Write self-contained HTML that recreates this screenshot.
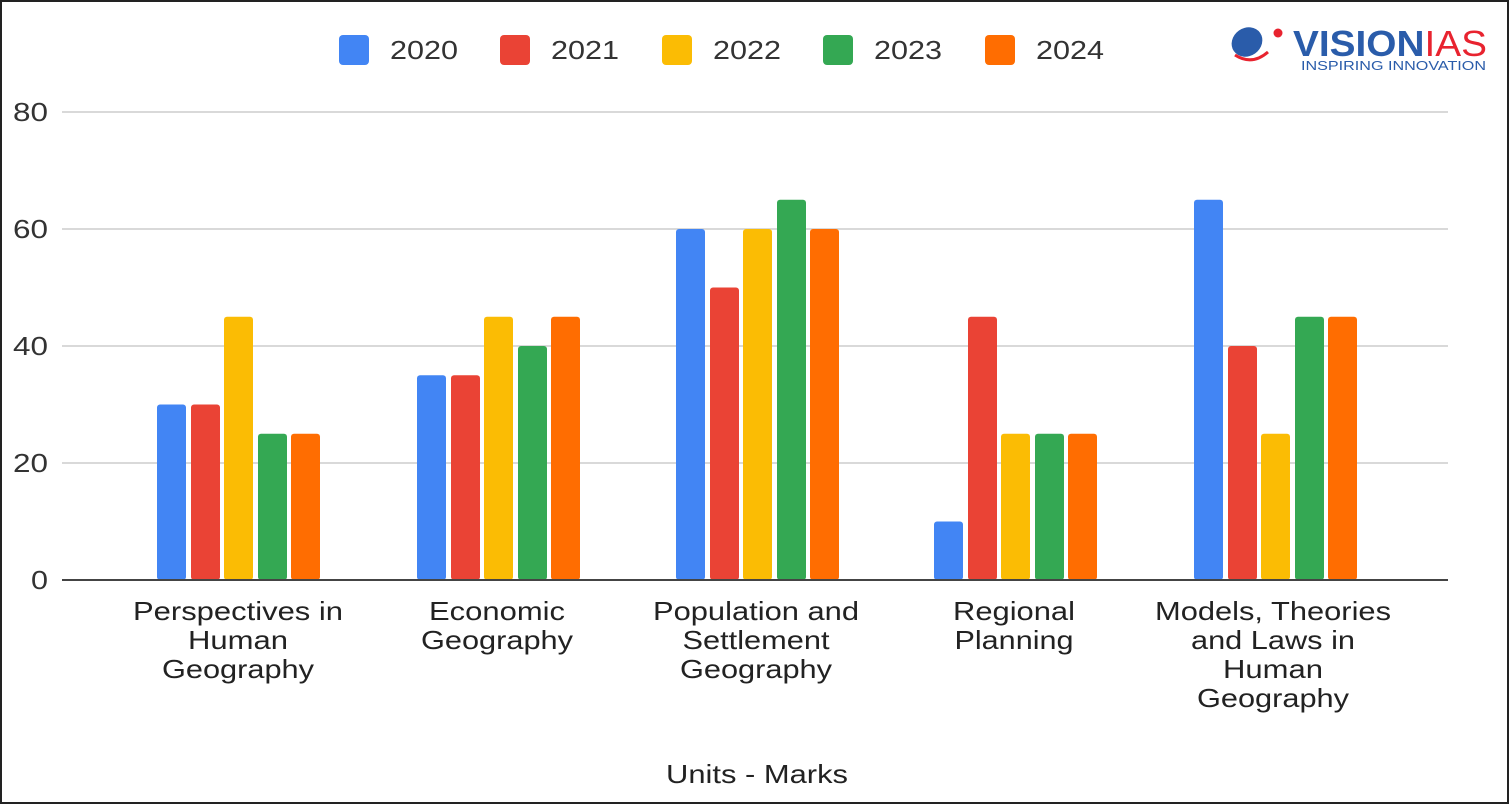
<!DOCTYPE html>
<html><head><style>
html,body{margin:0;padding:0;background:#fff;}
svg{display:block;}
text{font-family:"Liberation Sans",Arial,sans-serif;}
</style></head><body>
<svg width="1510" height="805" viewBox="0 0 1510 805" xmlns="http://www.w3.org/2000/svg">
<rect x="1" y="1" width="1507" height="802" fill="#fff" stroke="#222" stroke-width="2"/>
<g stroke="#d9d9d9" stroke-width="2">
<line x1="62" y1="112" x2="1448" y2="112"/>
<line x1="62" y1="229" x2="1448" y2="229"/>
<line x1="62" y1="346" x2="1448" y2="346"/>
<line x1="62" y1="463" x2="1448" y2="463"/>
</g>
<g font-size="26" fill="#333">
<text x="13" y="121" textLength="35" lengthAdjust="spacingAndGlyphs">80</text>
<text x="13" y="238" textLength="35" lengthAdjust="spacingAndGlyphs">60</text>
<text x="13" y="355" textLength="35" lengthAdjust="spacingAndGlyphs">40</text>
<text x="13" y="472" textLength="35" lengthAdjust="spacingAndGlyphs">20</text>
<text x="31" y="589" textLength="17" lengthAdjust="spacingAndGlyphs">0</text>
</g>
<g>
<rect x="157" y="404.5" width="29" height="175.5" rx="3" fill="#4285f4"/>
<rect x="191" y="404.5" width="29" height="175.5" rx="3" fill="#ea4335"/>
<rect x="224" y="316.7" width="29" height="263.3" rx="3" fill="#fbbc04"/>
<rect x="258" y="433.7" width="29" height="146.3" rx="3" fill="#34a853"/>
<rect x="291" y="433.7" width="29" height="146.3" rx="3" fill="#ff6d01"/>
<rect x="417" y="375.2" width="29" height="204.8" rx="3" fill="#4285f4"/>
<rect x="451" y="375.2" width="29" height="204.8" rx="3" fill="#ea4335"/>
<rect x="484" y="316.7" width="29" height="263.3" rx="3" fill="#fbbc04"/>
<rect x="518" y="346" width="29" height="234" rx="3" fill="#34a853"/>
<rect x="551" y="316.7" width="29" height="263.3" rx="3" fill="#ff6d01"/>
<rect x="676" y="229" width="29" height="351" rx="3" fill="#4285f4"/>
<rect x="710" y="287.5" width="29" height="292.5" rx="3" fill="#ea4335"/>
<rect x="743" y="229" width="29" height="351" rx="3" fill="#fbbc04"/>
<rect x="777" y="199.7" width="29" height="380.3" rx="3" fill="#34a853"/>
<rect x="810" y="229" width="29" height="351" rx="3" fill="#ff6d01"/>
<rect x="934" y="521.5" width="29" height="58.5" rx="3" fill="#4285f4"/>
<rect x="968" y="316.7" width="29" height="263.3" rx="3" fill="#ea4335"/>
<rect x="1001" y="433.7" width="29" height="146.3" rx="3" fill="#fbbc04"/>
<rect x="1035" y="433.7" width="29" height="146.3" rx="3" fill="#34a853"/>
<rect x="1068" y="433.7" width="29" height="146.3" rx="3" fill="#ff6d01"/>
<rect x="1194" y="199.7" width="29" height="380.3" rx="3" fill="#4285f4"/>
<rect x="1228" y="346" width="29" height="234" rx="3" fill="#ea4335"/>
<rect x="1261" y="433.7" width="29" height="146.3" rx="3" fill="#fbbc04"/>
<rect x="1295" y="316.7" width="29" height="263.3" rx="3" fill="#34a853"/>
<rect x="1328" y="316.7" width="29" height="263.3" rx="3" fill="#ff6d01"/>
</g>
<line x1="62" y1="580" x2="1448" y2="580" stroke="#444" stroke-width="2"/>
<g font-size="26" fill="#222" text-anchor="middle" lengthAdjust="spacingAndGlyphs">
<text x="238" y="620" textLength="210" lengthAdjust="spacingAndGlyphs">Perspectives in</text>
<text x="238" y="649" textLength="100" lengthAdjust="spacingAndGlyphs">Human</text>
<text x="238" y="678" textLength="152" lengthAdjust="spacingAndGlyphs">Geography</text>
<text x="497" y="620" textLength="136" lengthAdjust="spacingAndGlyphs">Economic</text>
<text x="497" y="649" textLength="152" lengthAdjust="spacingAndGlyphs">Geography</text>
<text x="756" y="620" textLength="206" lengthAdjust="spacingAndGlyphs">Population and</text>
<text x="756" y="649" textLength="147" lengthAdjust="spacingAndGlyphs">Settlement</text>
<text x="756" y="678" textLength="152" lengthAdjust="spacingAndGlyphs">Geography</text>
<text x="1014" y="620" textLength="122" lengthAdjust="spacingAndGlyphs">Regional</text>
<text x="1014" y="649" textLength="119" lengthAdjust="spacingAndGlyphs">Planning</text>
<text x="1273" y="620" textLength="236" lengthAdjust="spacingAndGlyphs">Models, Theories</text>
<text x="1273" y="649" textLength="164" lengthAdjust="spacingAndGlyphs">and Laws in</text>
<text x="1273" y="678" textLength="100" lengthAdjust="spacingAndGlyphs">Human</text>
<text x="1273" y="707" textLength="152" lengthAdjust="spacingAndGlyphs">Geography</text>
<text x="757" y="783" textLength="182" lengthAdjust="spacingAndGlyphs">Units - Marks</text>
</g>
<g font-size="26" fill="#333">
<rect x="339" y="35" width="30" height="30" rx="4" fill="#4285f4"/><text x="390" y="59" textLength="68" lengthAdjust="spacingAndGlyphs">2020</text>
<rect x="500" y="35" width="30" height="30" rx="4" fill="#ea4335"/><text x="551" y="59" textLength="68" lengthAdjust="spacingAndGlyphs">2021</text>
<rect x="662" y="35" width="30" height="30" rx="4" fill="#fbbc04"/><text x="713" y="59" textLength="68" lengthAdjust="spacingAndGlyphs">2022</text>
<rect x="823" y="35" width="30" height="30" rx="4" fill="#34a853"/><text x="874" y="59" textLength="68" lengthAdjust="spacingAndGlyphs">2023</text>
<rect x="985" y="35" width="30" height="30" rx="4" fill="#ff6d01"/><text x="1036" y="59" textLength="68" lengthAdjust="spacingAndGlyphs">2024</text>
</g>
<g>
<ellipse cx="1247" cy="42" rx="16" ry="14" fill="#2a5caa" transform="rotate(-35 1247 42)"/>
<path d="M1235 55 Q1252 66 1268 52" stroke="#e8232f" stroke-width="3" fill="none"/>
<circle cx="1278" cy="33" r="4.5" fill="#e8232f"/>
<text x="1293" y="56" font-size="36" font-weight="bold" fill="#2a5caa" textLength="194" lengthAdjust="spacingAndGlyphs">VISION<tspan fill="#e8232f" font-weight="normal">IAS</tspan></text>
<text x="1301" y="70" font-size="13" fill="#2a5caa" textLength="185" lengthAdjust="spacingAndGlyphs">INSPIRING INNOVATION</text>
</g>
</svg>
</body></html>
